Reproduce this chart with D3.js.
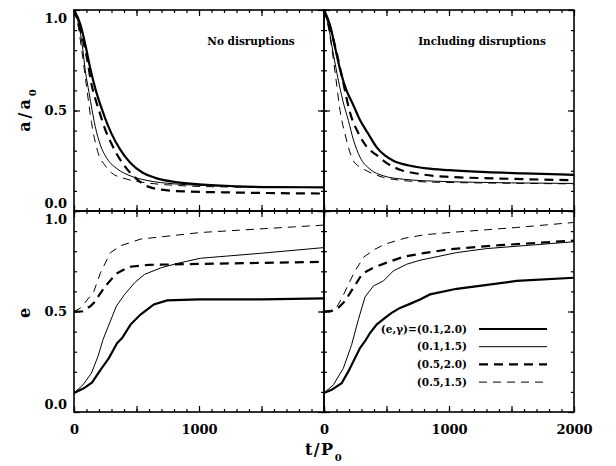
<!DOCTYPE html>
<html lang="en">
<head>
<meta charset="UTF-8">
<title>a/a0 and e versus t/P0</title>
<script src="https://d3js.org/d3.v7.min.js"></script>
<style>
  body { margin: 0; background: white; }
  svg text { font-family: "DejaVu Serif", serif; font-weight: bold; fill: black; }
</style>
</head>
<body>
<script>
// [t/P0, value]
// top row: a/a0, bottom row: e ; left = no disruptions, right = including disruptions
var aNo_01_20 = [[0,1],[50,0.93],[90,0.83],[130,0.71],[170,0.61],[210,0.53],[250,0.46],[300,0.385],[370,0.305],[450,0.24],[550,0.19],[650,0.165],[800,0.145],[1000,0.133],[1300,0.123],[1600,0.119],[2000,0.118]];
var aNo_01_15 = [[0,1],[20,0.97],[40,0.92],[65,0.83],[90,0.70],[120,0.59],[145,0.50],[170,0.42],[210,0.33],[265,0.26],[345,0.21],[450,0.175],[585,0.152],[800,0.135],[1000,0.128],[1300,0.121],[2000,0.117]];
var aNo_05_20 = [[0,1],[40,0.93],[80,0.83],[110,0.74],[140,0.63],[170,0.56],[200,0.50],[250,0.405],[300,0.335],[350,0.275],[400,0.228],[450,0.19],[500,0.16],[550,0.135],[600,0.12],[700,0.106],[900,0.097],[1200,0.093],[1600,0.089],[2000,0.087]];
var aNo_05_15 = [[0,1],[15,0.97],[30,0.93],[60,0.81],[100,0.62],[140,0.44],[190,0.295],[250,0.225],[300,0.19],[425,0.158],[560,0.142],[800,0.128],[1200,0.12],[2000,0.117]];

var aDis_01_20 = [[0,1],[50,0.92],[90,0.81],[130,0.70],[180,0.60],[225,0.54],[290,0.45],[355,0.383],[420,0.318],[490,0.275],[555,0.25],[690,0.225],[820,0.212],[1000,0.203],[1300,0.193],[1600,0.187],[2000,0.18]];
var aDis_01_15 = [[0,1],[35,0.92],[75,0.78],[115,0.65],[150,0.55],[195,0.45],[235,0.355],[288,0.268],[368,0.208],[475,0.175],[635,0.158],[820,0.15],[1000,0.146],[1500,0.14],[2000,0.137]];
var aDis_05_20 = [[0,1],[50,0.91],[100,0.79],[150,0.65],[208,0.49],[275,0.387],[341,0.32],[427,0.275],[515,0.233],[620,0.203],[728,0.188],[875,0.175],[1000,0.17],[1500,0.16],[2000,0.153]];
var aDis_05_15 = [[0,1],[30,0.93],[60,0.82],[95,0.66],[128,0.50],[168,0.383],[235,0.25],[300,0.215],[368,0.192],[475,0.167],[608,0.153],[800,0.145],[1000,0.142],[1500,0.138],[2000,0.135]];

var eNo_01_20 = [[0,0.095],[78,0.118],[145,0.147],[212,0.21],[279,0.268],[345,0.343],[385,0.368],[452,0.435],[532,0.485],[639,0.535],[745,0.555],[1000,0.56],[1500,0.56],[2000,0.565]];
var eNo_01_15 = [[0,0.095],[72,0.135],[139,0.193],[192,0.277],[232,0.36],[285,0.443],[339,0.527],[405,0.585],[485,0.643],[565,0.685],[699,0.718],[832,0.74],[1012,0.765],[1500,0.79],[2000,0.818]];
var eNo_05_20 = [[0,0.5],[65,0.5],[132,0.527],[159,0.543],[252,0.627],[337,0.688],[439,0.722],[599,0.732],[1012,0.737],[2000,0.747]];
var eNo_05_15 = [[0,0.5],[52,0.517],[119,0.568],[159,0.60],[212,0.693],[292,0.793],[372,0.827],[532,0.86],[1012,0.893],[2000,0.93]];

var eDis_01_20 = [[0,0.095],[61,0.11],[141,0.143],[195,0.202],[248,0.268],[288,0.318],[328,0.352],[368,0.393],[421,0.435],[488,0.468],[541,0.493],[608,0.518],[688,0.538],[768,0.56],[848,0.585],[1061,0.613],[1275,0.63],[1541,0.652],[2000,0.668]];
var eDis_01_15 = [[0,0.095],[75,0.135],[155,0.218],[221,0.335],[275,0.46],[328,0.572],[395,0.627],[475,0.652],[555,0.702],[661,0.735],[768,0.755],[1061,0.793],[1301,0.813],[2000,0.847]];
var eDis_05_20 = [[0,0.5],[61,0.502],[115,0.518],[168,0.552],[235,0.618],[307,0.688],[395,0.718],[501,0.743],[635,0.772],[795,0.79],[1008,0.81],[1408,0.83],[2000,0.853]];
var eDis_05_15 = [[0,0.5],[50,0.505],[100,0.52],[150,0.575],[195,0.635],[248,0.702],[320,0.772],[408,0.81],[488,0.835],[648,0.865],[808,0.882],[1008,0.893],[1541,0.918],[2000,0.943]];

var legendLabels = ["(e,\u03b3)=(0.1,2.0)", "(0.1,1.5)", "(0.5,2.0)", "(0.5,1.5)"];
var panelTitles = ["No disruptions", "Including disruptions"];
var xLabelsLeft = [0, 1000];
var xLabelsRight = [0, 1000, 2000];
var yLabels = [0, 0.5, 1.0];
var xMajor = [0, 500, 1000, 1500, 2000];
var xMinor = d3.range(0, 2001, 100);
var yMajor = [0, 0.5, 1];
var yMinor = d3.range(0, 1.0001, 0.1);

// thick solid, thin solid, thick dashed, thin dashed
var styles = [
  { w: 2.2, dash: null },
  { w: 1, dash: null },
  { w: 2.2, dash: "9,6" },
  { w: 1, dash: "8,6" }
];

var svg = d3.select("body").append("svg").attr("width", 616).attr("height", 466);
svg.append("rect").attr("width", 616).attr("height", 466).attr("fill", "white");

var xL = d3.scaleLinear().domain([0, 2000]).range([74, 324]);
var xR = d3.scaleLinear().domain([0, 2000]).range([324, 574]);
var yT = d3.scaleLinear().domain([0, 1]).range([211, 10]);
var yB = d3.scaleLinear().domain([0, 1]).range([412, 211]);

var panels = [
  { x: xL, y: yT, series: [aNo_01_20, aNo_01_15, aNo_05_20, aNo_05_15], curve: d3.curveMonotoneX },
  { x: xR, y: yT, series: [aDis_01_20, aDis_01_15, aDis_05_20, aDis_05_15], curve: d3.curveMonotoneX },
  { x: xL, y: yB, series: [eNo_01_20, eNo_01_15, eNo_05_20, eNo_05_15], curve: d3.curveLinear },
  { x: xR, y: yB, series: [eDis_01_20, eDis_01_15, eDis_05_20, eDis_05_15], curve: d3.curveLinear }
];

function tickAxis(g, axis, tx, ty) {
  var a = g.append("g").attr("transform", "translate(" + tx + "," + ty + ")").call(axis);
  a.select(".domain").remove();
  a.selectAll("line").attr("stroke", "black").attr("stroke-width", 1.2);
}

panels.forEach(function(p) {
  var g = svg.append("g");
  var x0 = p.x.range()[0], x1 = p.x.range()[1];
  var y0 = p.y.range()[1], y1 = p.y.range()[0];

  var line = d3.line().x(function(d){ return p.x(d[0]); }).y(function(d){ return p.y(d[1]); }).curve(p.curve);

  g.selectAll("path.curve").data(p.series).enter().append("path")
    .attr("class", "curve")
    .attr("d", line)
    .attr("fill", "none")
    .attr("stroke", "black")
    .attr("stroke-width", function(d, i){ return styles[i].w; })
    .attr("stroke-dasharray", function(d, i){ return styles[i].dash; });

  // inward ticks on all four sides
  [[xMinor, 3], [xMajor, 6]].forEach(function(t) {
    tickAxis(g, d3.axisBottom(p.x).tickValues(t[0]).tickSize(-t[1]).tickFormat(""), 0, y1);
    tickAxis(g, d3.axisTop(p.x).tickValues(t[0]).tickSize(-t[1]).tickFormat(""), 0, y0);
  });
  [[yMinor, 3], [yMajor, 6]].forEach(function(t) {
    tickAxis(g, d3.axisLeft(p.y).tickValues(t[0]).tickSize(-t[1]).tickFormat(""), x0, 0);
    tickAxis(g, d3.axisRight(p.y).tickValues(t[0]).tickSize(-t[1]).tickFormat(""), x1, 0);
  });

  g.append("rect")
    .attr("x", x0).attr("y", y0)
    .attr("width", x1 - x0).attr("height", y1 - y0)
    .attr("fill", "none").attr("stroke", "black").attr("stroke-width", 1.6);
});

// tick labels
function labelAxis(axis, tx, ty, dyFn) {
  var a = svg.append("g").attr("transform", "translate(" + tx + "," + ty + ")").call(axis);
  a.select(".domain").remove();
  a.selectAll("text").style("font-family", "'DejaVu Serif', serif").style("font-weight", "bold")
    .style("font-size", "13px").attr("fill", "black");
  if (dyFn) a.selectAll("text").attr("dy", dyFn);
}
var yDy = function(d){ return d === 1 ? "0.95em" : (d === 0 ? "-0.3em" : "0.32em"); };
labelAxis(d3.axisLeft(yT).tickValues(yLabels).tickSize(0).tickPadding(7).tickFormat(d3.format(".1f")), 74, 0, yDy);
labelAxis(d3.axisLeft(yB).tickValues(yLabels).tickSize(0).tickPadding(7).tickFormat(d3.format(".1f")), 74, 0, yDy);
labelAxis(d3.axisBottom(xL).tickValues(xLabelsLeft).tickSize(0).tickPadding(13).tickFormat(d3.format("d")), 0, 412);
labelAxis(d3.axisBottom(xR).tickValues(xLabelsRight).tickSize(0).tickPadding(13).tickFormat(d3.format("d")), 0, 412);

// panel titles
svg.selectAll("text.ptitle").data(panelTitles).enter().append("text")
  .attr("class", "ptitle")
  .attr("x", function(d, i){ return i === 0 ? 251 : 482; })
  .attr("y", 45)
  .attr("text-anchor", "middle")
  .style("font-size", "10.5px")
  .text(function(d){ return d; });

// axis titles
var xt = svg.append("text").attr("x", 324).attr("y", 455).attr("text-anchor", "middle")
  .style("font-size", "16px").style("letter-spacing", "1.5px");
xt.append("tspan").text("t/P");
xt.append("tspan").attr("baseline-shift", "sub").style("font-size", "10px").text("0");

var yt = svg.append("text").attr("transform", "translate(30,109) rotate(-90)").attr("text-anchor", "middle")
  .style("font-size", "16px").style("letter-spacing", "3px");
yt.append("tspan").text("a/a");
yt.append("tspan").attr("baseline-shift", "sub").style("font-size", "10px").text("0");

svg.append("text").attr("transform", "translate(30,313) rotate(-90)").attr("text-anchor", "middle")
  .style("font-size", "16px").text("e");

// legend
var leg = svg.selectAll("g.leg").data(legendLabels).enter().append("g")
  .attr("class", "leg")
  .attr("transform", function(d, i){ return "translate(0," + (329 + i * 17.7) + ")"; });
leg.append("text").attr("x", 467).attr("dy", "0.35em").attr("text-anchor", "end")
  .style("font-size", "10.5px").text(function(d){ return d; });
leg.append("line").attr("x1", 479).attr("x2", 547)
  .attr("stroke", "black")
  .attr("stroke-width", function(d, i){ return styles[i].w; })
  .attr("stroke-dasharray", function(d, i){ return styles[i].dash; });
</script>
</body>
</html>
